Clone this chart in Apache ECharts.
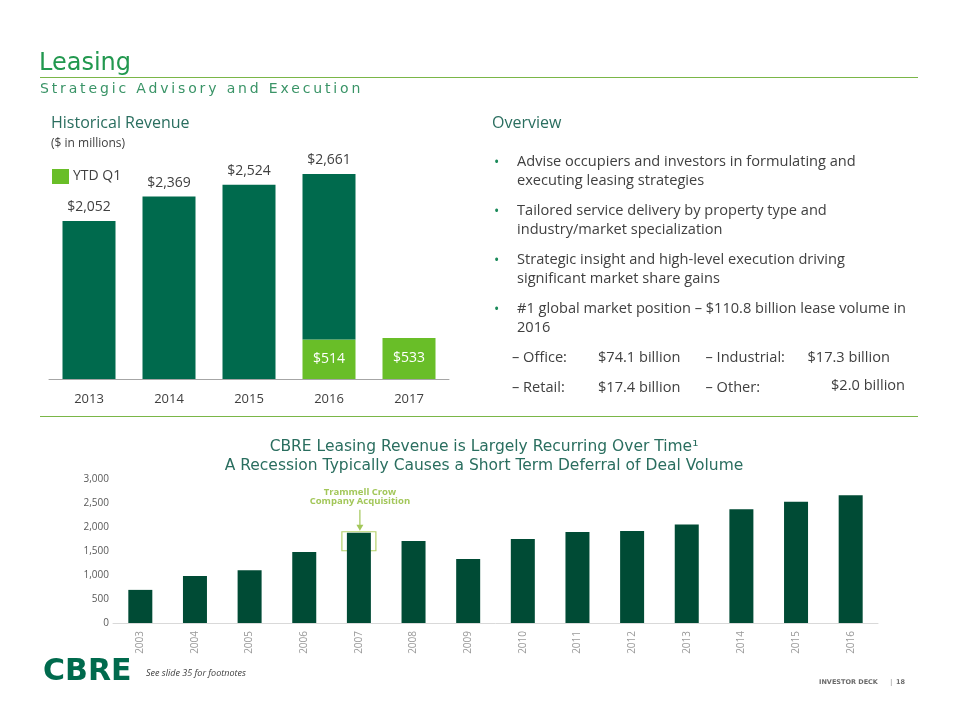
<!DOCTYPE html>
<html>
<head>
<meta charset="utf-8">
<script src="https://cdn.jsdelivr.net/npm/echarts@6/dist/echarts.min.js"></script>
<style>
  html, body { margin: 0; padding: 0; background: #fff; }
  #wrap { position: relative; width: 960px; height: 720px; }
  #chart { position: absolute; left: 0; top: 0; width: 960px; height: 720px; }
  #subtitle { position: absolute; left: 40px; top: 79px; font-family: "DejaVu Sans", sans-serif; font-size: 14px;
              letter-spacing: 2.85px; color: #3a9467; white-space: nowrap; line-height: 18px; }
</style>
</head>
<body>
<div id="wrap">
  <div id="chart"></div>
  <div id="subtitle">Strategic Advisory and Execution</div>
</div>
<script>
// ---------- data ----------
const topYears = ['2013', '2014', '2015', '2016', '2017'];
const topTotals = [2052, 2369, 2524, 2661, null];
const topQ1 = [null, null, null, 514, 533];

const histYears = ['2003', '2004', '2005', '2006', '2007', '2008', '2009',
                   '2010', '2011', '2012', '2013', '2014', '2015', '2016'];
const histRevenue = [690, 980, 1100, 1480, 1880, 1710, 1335,
                     1750, 1895, 1915, 2052, 2369, 2524, 2661];

const bullets = [
  ['Advise occupiers and investors in formulating and', 'executing leasing strategies'],
  ['Tailored service delivery by property type and', 'industry/market specialization'],
  ['Strategic insight and high-level execution driving', 'significant market share gains'],
  ['#1 global market position \u2013 $110.8 billion lease volume in', '2016']
];
const subLabels = ['\u2013 Office:', '\u2013 Industrial:', '\u2013 Retail:', '\u2013 Other:'];
const subValues = ['$74.1 billion', '$17.3 billion', '$17.4 billion', '$2.0 billion'];

// ---------- chart ----------
const fmt = v => '$' + Number(v).toLocaleString('en-US');
const fullYearPart = topTotals.map((t, i) => t == null ? null : t - (topQ1[i] || 0));
const BODY = '"Open Sans", "Noto Sans", sans-serif';

const chart = echarts.init(document.getElementById('chart'), null, { renderer: 'canvas' });

chart.setOption({
  animation: false,
  textStyle: { fontFamily: BODY },
  legend: {
    data: ['YTD Q1'],
    left: 52, top: 169, padding: 0,
    icon: 'rect', itemWidth: 17, itemHeight: 15, itemGap: 4,
    textStyle: { fontSize: 14, color: '#404040', fontFamily: BODY, padding: [0, 0, 0, -1] },
    selectedMode: false
  },
  grid: [
    { left: 49, width: 400, top: 148, height: 231 },
    { left: 113, right: 82, top: 479, height: 144 }
  ],
  xAxis: [
    {
      type: 'category', gridIndex: 0, data: topYears,
      axisLine: { lineStyle: { color: '#a6a6a6', width: 1 } },
      axisTick: { show: false },
      axisLabel: { fontSize: 13, color: '#404040', margin: 14, fontFamily: BODY }
    },
    {
      type: 'category', gridIndex: 1, data: histYears,
      axisLine: { lineStyle: { color: '#d9d9d9', width: 1 } },
      axisTick: { show: false },
      axisLabel: { rotate: 90, fontSize: 10, color: '#9a9a9a', margin: 8, fontFamily: BODY }
    }
  ],
  yAxis: [
    { type: 'value', gridIndex: 0, min: 0, max: 3000, show: false },
    {
      type: 'value', gridIndex: 1, min: 0, max: 3000, interval: 500,
      axisLine: { show: false }, axisTick: { show: false }, splitLine: { show: false },
      axisLabel: { fontSize: 10, color: '#595959', margin: 4, fontFamily: BODY,
                   formatter: v => Number(v).toLocaleString('en-US') }
    }
  ],
  series: [
    {
      name: 'YTD Q1', type: 'bar', stack: 'top', xAxisIndex: 0, yAxisIndex: 0,
      data: topQ1, barWidth: 53, itemStyle: { color: '#69be28' },
      label: { show: true, position: 'inside', color: '#ffffff', fontSize: 14,
               fontFamily: BODY, formatter: p => fmt(p.value) }
    },
    {
      name: 'Full Year', type: 'bar', stack: 'top', xAxisIndex: 0, yAxisIndex: 0,
      data: fullYearPart, barWidth: 53, itemStyle: { color: '#006a4d' },
      label: { show: true, position: 'top', distance: 7, color: '#404040', fontSize: 14,
               fontFamily: BODY, formatter: p => fmt(topTotals[p.dataIndex]) }
    },
    {
      name: 'Leasing Revenue', type: 'bar', xAxisIndex: 1, yAxisIndex: 1,
      data: histRevenue, barWidth: 24, itemStyle: { color: '#004b35' }
    }
  ]
});

// ---------- static text & annotation ----------
const g = [];
const txt = (x, y, text, style) => g.push({
  type: 'text', silent: true,
  style: Object.assign({ x, y, text, fill: '#404040', fontFamily: BODY, fontSize: 14,
                         textVerticalAlign: 'middle', textAlign: 'left' }, style || {})
});
const hline = (x1, x2, y, color) => g.push({
  type: 'line', silent: true, shape: { x1, y1: y, x2, y2: y },
  style: { stroke: color, lineWidth: 1 }
});

// header
txt(39, 64, 'Leasing', { fontSize: 24, fontWeight: 500, fill: '#22984f', fontFamily: '"DejaVu Sans", sans-serif' });
hline(40, 918, 77.5, '#7ab648');

// section headings
txt(51, 123, 'Historical Revenue', { fontSize: 16, fill: '#2a6e5f' });
txt(51, 144, '($ in millions)', { fontSize: 12, fill: '#404040' });
txt(492, 123, 'Overview', { fontSize: 16, fill: '#2a6e5f' });

// bullets
bullets.forEach((lines, i) => {
  const y0 = 161.5 + i * 49;
  txt(494, y0 + 1.5, '\u2022', { fontSize: 14, fill: '#1b8a5a' });
  lines.forEach((l, j) => txt(517, y0 + j * 19, l, { fontSize: 14.6 }));
});
// sub-items
const subX = [512, 705.5];
const valX = [598, 807.5];
[[0, 1], [2, 3]].forEach((pair, r) => {
  const y = 357.5 + r * 30;
  pair.forEach((k, c) => {
    txt(subX[c], y, subLabels[k], { fontSize: 14.6 });
    const vx = (k === 3) ? 831 : valX[c];
    txt(vx, (k === 3) ? y - 2 : y, subValues[k], { fontSize: 14.6 });
  });
});
hline(40, 918, 416.5, '#7ab648');

// bottom chart titles
txt(484, 447, 'CBRE Leasing Revenue is Largely Recurring Over Time\u00b9',
    { fontSize: 15.5, fill: '#2a6e5f', textAlign: 'center', fontFamily: '"DejaVu Sans", sans-serif' });
txt(484, 466, 'A Recession Typically Causes a Short Term Deferral of Deal Volume',
    { fontSize: 15.5, fill: '#2a6e5f', textAlign: 'center', fontFamily: '"DejaVu Sans", sans-serif' });

// annotation around the 2007 bar (positions derived from the axis scales)
const idx2007 = histYears.indexOf('2007');
const pTop = chart.convertToPixel({ xAxisIndex: 1, yAxisIndex: 1 }, [idx2007, histRevenue[idx2007]]);
const cx = pTop[0], topY = pTop[1];
g.push({
  type: 'rect', silent: true,
  shape: { x: cx - 17, y: topY - 1, width: 34, height: 19 },
  style: { fill: 'none', stroke: '#b5d16b', lineWidth: 1.2 }
});
g.push({
  type: 'line', silent: true,
  shape: { x1: cx + 1, y1: topY - 23, x2: cx + 1, y2: topY - 6 },
  style: { stroke: '#a3c75a', lineWidth: 1.2 }
});
g.push({
  type: 'polygon', silent: true,
  shape: { points: [[cx - 2.5, topY - 8], [cx + 4.5, topY - 8], [cx + 1, topY - 2]] },
  style: { fill: '#a3c75a' }
});
txt(cx + 1, topY - 40, 'Trammell Crow', { fontSize: 9.5, fontWeight: 'bold', fill: '#a3c75a', textAlign: 'center', fontFamily: '"Open Sans", sans-serif' });
txt(cx + 1, topY - 31, 'Company Acquisition', { fontSize: 9.5, fontWeight: 'bold', fill: '#a3c75a', textAlign: 'center', fontFamily: '"Open Sans", sans-serif' });

// footer
txt(43, 672, 'CBRE', { fontSize: 30, fontWeight: 'bold', fill: '#006a4d', fontFamily: '"DejaVu Sans", sans-serif' });
txt(146, 673, 'See slide 35 for footnotes', { fontSize: 9, fontStyle: 'italic', fill: '#404040' });
txt(819, 682, 'INVESTOR DECK', { fontSize: 6.5, fontWeight: 'bold', fill: '#6b6b6b', fontFamily: '"DejaVu Sans", sans-serif' });
txt(889, 682, '|', { fontSize: 8, fill: '#8a8a8a' });
txt(896, 682, '18', { fontSize: 6.5, fontWeight: 'bold', fill: '#6b6b6b', fontFamily: '"DejaVu Sans", sans-serif' });

chart.setOption({ graphic: g });
</script>
</body>
</html>
